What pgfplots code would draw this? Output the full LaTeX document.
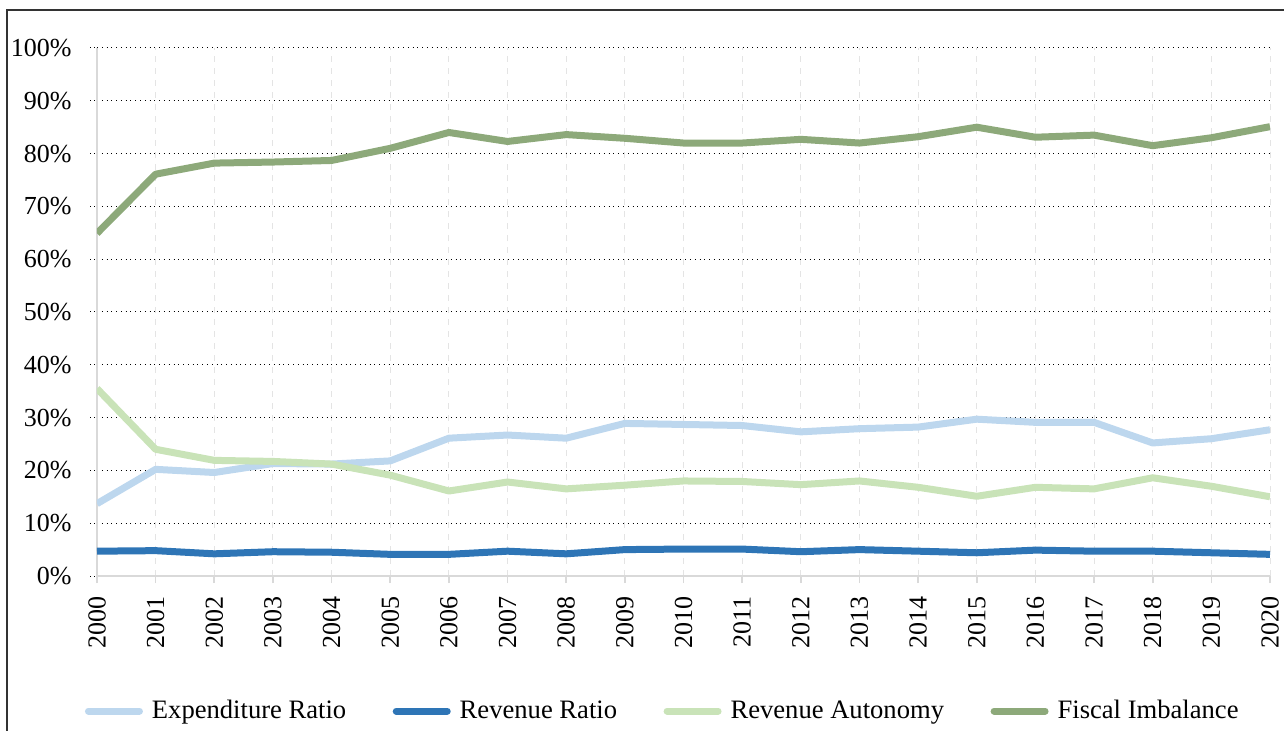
\documentclass[border=0pt]{standalone}
\usepackage{fontspec}
\setmainfont{Liberation Serif}
\usepackage{pgfplots}
\pgfplotsset{compat=1.18}
\definecolor{expc}{HTML}{BDD7EE}
\definecolor{revc}{HTML}{2E75B6}
\definecolor{autc}{HTML}{C9E3B8}
\definecolor{fisc}{HTML}{8DA97A}
\definecolor{axc}{HTML}{D9D9D9}
\begin{document}
\begin{tikzpicture}
\useasboundingbox (-48.5bp,-77.5bp) rectangle (593.5bp,288bp);
\begin{axis}[
  at={(0,0)}, anchor=south west,
  scale only axis, width=586.5bp, height=264bp,
  xmin=2000, xmax=2020, ymin=0, ymax=100,
  xtick={2000,2001,...,2020},
  ytick={0,10,...,100},
  /pgf/number format/assume math mode=true,
  xticklabel={\pgfmathprintnumber[1000 sep={}]{\tick}},
  yticklabel={\pgfmathprintnumber{\tick}\%},
  xticklabel style={rotate=90, anchor=east, font=\fontsize{13bp}{15bp}\selectfont, inner sep=1bp, xshift=-5.5bp},
  yticklabel style={font=\fontsize{13bp}{15bp}\selectfont, inner sep=1bp, xshift=-8bp},
  axis lines=left, axis line style={-, draw=axc, line width=0.8bp},
  tick align=outside, major tick length=3.5bp,
  xtick style={draw=axc, line width=0.8bp},
  ytick style={draw=black, dotted, line width=0.5bp},
  grid=major,
  x grid style={draw=axc!70, dashed, line width=0.5bp},
  y grid style={draw=black, dotted, line width=0.5bp},
  line join=round,
  legend columns=4,
  legend style={at={(0.4804,-0.2557)}, anchor=center, draw=none, fill=none,
    font=\fontsize{13.3bp}{15bp}\selectfont,
    nodes={inner xsep=0.5bp},
    /tikz/every even column/.append style={column sep=21bp}},
  legend image code/.code={\draw[#1, line cap=round] (0bp,0bp) -- (25.5bp,0bp);
    \path (-1.75bp,0bp) (29.5bp,0bp);},
]
\addplot[expc, line width=3.5bp] coordinates {
(2000,13.7) (2001,20.2) (2002,19.6) (2003,21.3) (2004,21.2) (2005,21.8) (2006,26.1) (2007,26.7) (2008,26.1) (2009,28.9)
(2010,28.7) (2011,28.5) (2012,27.3) (2013,27.9) (2014,28.2) (2015,29.7) (2016,29.1) (2017,29.1) (2018,25.2) (2019,26.0) (2020,27.7)};
\addlegendentry{Expenditure Ratio}
\addplot[revc, line width=3.5bp] coordinates {
(2000,4.7) (2001,4.8) (2002,4.2) (2003,4.6) (2004,4.5) (2005,4.1) (2006,4.1) (2007,4.7) (2008,4.2) (2009,5.0)
(2010,5.1) (2011,5.1) (2012,4.6) (2013,5.0) (2014,4.7) (2015,4.4) (2016,4.9) (2017,4.7) (2018,4.7) (2019,4.4) (2020,4.1)};
\addlegendentry{Revenue Ratio}
\addplot[autc, line width=3.5bp] coordinates {
(2000,35.5) (2001,24.0) (2002,21.9) (2003,21.7) (2004,21.2) (2005,19.1) (2006,16.1) (2007,17.8) (2008,16.5) (2009,17.2)
(2010,18.0) (2011,17.9) (2012,17.3) (2013,18.0) (2014,16.8) (2015,15.1) (2016,16.8) (2017,16.5) (2018,18.6) (2019,17.0) (2020,15.0)};
\addlegendentry{Revenue Autonomy}
\addplot[fisc, line width=3.5bp] coordinates {
(2000,64.9) (2001,76.1) (2002,78.2) (2003,78.4) (2004,78.7) (2005,81.0) (2006,84.0) (2007,82.3) (2008,83.6) (2009,82.9)
(2010,82.0) (2011,82.0) (2012,82.7) (2013,82.0) (2014,83.2) (2015,85.0) (2016,83.1) (2017,83.5) (2018,81.5) (2019,83.0) (2020,85.1)};
\addlegendentry{Fiscal Imbalance}
\end{axis}
\draw[black!80, line width=0.6bp] (-45bp,-80bp) -- (-45bp,283bp) -- (600bp,283bp);
\end{tikzpicture}
\end{document}
